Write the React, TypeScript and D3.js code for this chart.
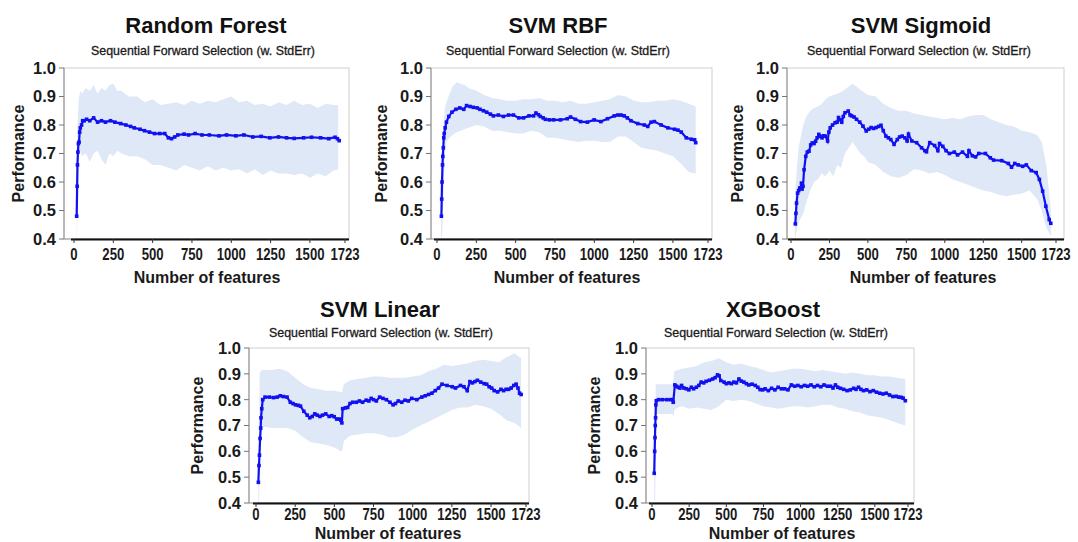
import React from "react";
import * as d3 from "d3";

// ---------- data ----------
const X_TICKS = [0, 250, 500, 750, 1000, 1250, 1500, 1723];
const Y_TICKS = [0.4, 0.5, 0.6, 0.7, 0.8, 0.9, 1.0];
const SUBTITLE = "Sequential Forward Selection (w. StdErr)";
const X_LABEL = "Number of features";
const Y_LABEL = "Performance";

// Random Forest
const rfX = [17, 20, 22, 25, 28, 32, 36, 40, 48, 55, 65, 80, 100, 125, 150, 175, 200, 232, 260, 297, 330, 360, 383, 420, 448, 480, 512, 545, 577, 600, 620, 640, 660, 700, 728, 770, 814, 860, 922, 970, 1029, 1080, 1137, 1190, 1245, 1300, 1352, 1400, 1460, 1510, 1568, 1620, 1660, 1675, 1686];
const rfY = [0.48, 0.585, 0.66, 0.705, 0.735, 0.74, 0.775, 0.79, 0.8, 0.815, 0.815, 0.82, 0.815, 0.825, 0.81, 0.815, 0.81, 0.815, 0.81, 0.805, 0.8, 0.795, 0.79, 0.785, 0.78, 0.775, 0.77, 0.77, 0.77, 0.755, 0.752, 0.758, 0.765, 0.768, 0.765, 0.77, 0.765, 0.765, 0.762, 0.765, 0.762, 0.765, 0.758, 0.76, 0.755, 0.758, 0.755, 0.753, 0.755, 0.757, 0.755, 0.752, 0.757, 0.752, 0.745];
const rfBandX = [17, 22, 30, 40, 50, 75, 100, 125, 150, 175, 200, 225, 250, 275, 300, 350, 400, 450, 500, 550, 600, 650, 700, 750, 800, 850, 900, 950, 1000, 1050, 1100, 1150, 1200, 1250, 1300, 1350, 1400, 1450, 1500, 1550, 1600, 1650, 1680];
const rfUpper = [0.58, 0.8, 0.89, 0.92, 0.91, 0.93, 0.92, 0.94, 0.91, 0.93, 0.92, 0.94, 0.945, 0.92, 0.92, 0.9, 0.9, 0.88, 0.89, 0.87, 0.875, 0.88, 0.87, 0.885, 0.875, 0.885, 0.88, 0.89, 0.9, 0.88, 0.885, 0.87, 0.875, 0.865, 0.88, 0.87, 0.885, 0.87, 0.875, 0.86, 0.875, 0.87, 0.87];
const rfLower = [0.38, 0.5, 0.7, 0.71, 0.69, 0.7, 0.67, 0.7, 0.71, 0.68, 0.66, 0.7, 0.69, 0.71, 0.7, 0.69, 0.69, 0.68, 0.66, 0.66, 0.65, 0.64, 0.66, 0.65, 0.64, 0.655, 0.64, 0.65, 0.64, 0.645, 0.63, 0.645, 0.625, 0.64, 0.63, 0.63, 0.625, 0.63, 0.615, 0.63, 0.62, 0.64, 0.645];

// SVM RBF
const rbfX = [28, 30, 32, 35, 37, 40, 43, 46, 52, 60, 75, 95, 120, 145, 170, 188, 210, 231, 255, 273, 295, 316, 340, 358, 390, 422, 455, 486, 520, 550, 585, 614, 629, 645, 657, 675, 689, 715, 742, 785, 828, 849, 880, 913, 956, 999, 1042, 1084, 1127, 1150, 1170, 1190, 1210, 1233, 1276, 1318, 1340, 1361, 1382, 1425, 1468, 1510, 1532, 1553, 1585, 1617, 1638, 1645];
const rbfY = [0.48, 0.54, 0.6, 0.66, 0.69, 0.72, 0.755, 0.77, 0.79, 0.81, 0.83, 0.845, 0.855, 0.86, 0.855, 0.868, 0.865, 0.862, 0.86, 0.855, 0.85, 0.845, 0.838, 0.832, 0.835, 0.83, 0.835, 0.835, 0.825, 0.825, 0.832, 0.832, 0.842, 0.836, 0.83, 0.825, 0.82, 0.818, 0.818, 0.818, 0.822, 0.828, 0.82, 0.812, 0.81, 0.818, 0.812, 0.822, 0.832, 0.835, 0.835, 0.832, 0.825, 0.815, 0.805, 0.8, 0.795, 0.81, 0.812, 0.8, 0.79, 0.785, 0.782, 0.775, 0.755, 0.75, 0.748, 0.738];
const rbfBandX = [26, 30, 35, 40, 50, 60, 80, 100, 125, 150, 175, 200, 250, 300, 350, 400, 450, 500, 550, 600, 650, 700, 750, 800, 850, 900, 950, 1000, 1050, 1100, 1150, 1200, 1250, 1300, 1350, 1400, 1450, 1500, 1550, 1600, 1645];
const rbfUpper = [0.55, 0.6, 0.7, 0.78, 0.86, 0.88, 0.91, 0.935, 0.95, 0.945, 0.94, 0.93, 0.92, 0.905, 0.895, 0.89, 0.885, 0.885, 0.89, 0.89, 0.895, 0.885, 0.885, 0.88, 0.885, 0.875, 0.875, 0.88, 0.885, 0.89, 0.905, 0.9, 0.885, 0.88, 0.88, 0.885, 0.885, 0.89, 0.885, 0.875, 0.865];
const rbfLower = [0.38, 0.4, 0.45, 0.55, 0.7, 0.74, 0.755, 0.765, 0.775, 0.78, 0.785, 0.79, 0.8, 0.795, 0.78, 0.78, 0.775, 0.77, 0.77, 0.78, 0.775, 0.755, 0.755, 0.75, 0.745, 0.74, 0.745, 0.745, 0.74, 0.74, 0.76, 0.76, 0.74, 0.72, 0.715, 0.71, 0.7, 0.69, 0.665, 0.635, 0.63];

// SVM Sigmoid
const sigX = [28, 32, 36, 43, 50, 57, 64, 68, 72, 78, 85, 96, 106, 117, 128, 138, 150, 160, 170, 181, 192, 202, 212, 223, 238, 246, 255, 270, 287, 300, 309, 320, 330, 340, 351, 372, 384, 394, 410, 426, 447, 468, 489, 505, 521, 537, 553, 570, 585, 600, 617, 633, 649, 670, 691, 706, 723, 740, 755, 764, 785, 817, 849, 870, 881, 902, 934, 955, 966, 987, 1008, 1030, 1062, 1083, 1115, 1147, 1157, 1179, 1200, 1221, 1264, 1296, 1317, 1370, 1413, 1434, 1455, 1477, 1506, 1530, 1562, 1594, 1615, 1636, 1657, 1679, 1689];
const sigY = [0.453, 0.49, 0.526, 0.561, 0.57, 0.579, 0.58, 0.596, 0.575, 0.585, 0.643, 0.69, 0.705, 0.708, 0.73, 0.737, 0.735, 0.743, 0.755, 0.767, 0.76, 0.755, 0.762, 0.761, 0.744, 0.775, 0.79, 0.8, 0.808, 0.81, 0.826, 0.818, 0.81, 0.83, 0.843, 0.849, 0.835, 0.832, 0.828, 0.82, 0.81, 0.796, 0.779, 0.785, 0.791, 0.788, 0.791, 0.795, 0.799, 0.78, 0.761, 0.755, 0.749, 0.732, 0.749, 0.758, 0.761, 0.755, 0.744, 0.768, 0.744, 0.738, 0.72, 0.71, 0.706, 0.738, 0.728, 0.71, 0.735, 0.725, 0.71, 0.7, 0.705, 0.695, 0.705, 0.69, 0.71, 0.692, 0.688, 0.7, 0.7, 0.685, 0.677, 0.675, 0.665, 0.652, 0.665, 0.66, 0.655, 0.66, 0.64, 0.633, 0.609, 0.568, 0.515, 0.468, 0.455];
const sigBandX = [25, 30, 40, 50, 60, 80, 100, 125, 150, 175, 200, 225, 250, 275, 300, 325, 350, 375, 400, 425, 450, 475, 500, 550, 600, 650, 700, 750, 800, 850, 900, 950, 1000, 1050, 1100, 1150, 1200, 1250, 1300, 1350, 1400, 1450, 1500, 1550, 1600, 1630, 1660, 1690];
const sigUpper = [0.48, 0.58, 0.66, 0.72, 0.75, 0.8, 0.83, 0.85, 0.86, 0.865, 0.875, 0.89, 0.9, 0.905, 0.91, 0.915, 0.925, 0.935, 0.945, 0.935, 0.925, 0.915, 0.905, 0.9, 0.875, 0.86, 0.85, 0.85, 0.84, 0.835, 0.83, 0.825, 0.82, 0.825, 0.82, 0.83, 0.835, 0.835, 0.82, 0.81, 0.8, 0.795, 0.78, 0.775, 0.765, 0.74, 0.66, 0.5];
const sigLower = [0.4, 0.41, 0.44, 0.46, 0.47, 0.49, 0.53, 0.57, 0.6, 0.61, 0.63, 0.62, 0.64, 0.62, 0.66, 0.65, 0.7, 0.72, 0.74, 0.72, 0.7, 0.69, 0.67, 0.66, 0.635, 0.62, 0.615, 0.625, 0.645, 0.64, 0.63, 0.635, 0.625, 0.61, 0.6, 0.59, 0.58, 0.57, 0.565, 0.555, 0.55, 0.555, 0.56, 0.57, 0.54, 0.5, 0.44, 0.41];

// SVM Linear
const linX = [15, 19, 22, 26, 30, 32, 37, 43, 58, 85, 112, 135, 155, 175, 198, 219, 236, 252, 270, 284, 305, 327, 343, 359, 375, 391, 408, 424, 445, 467, 483, 499, 515, 531, 542, 548, 553, 570, 585, 600, 617, 640, 660, 680, 703, 720, 735, 750, 768, 789, 810, 832, 855, 875, 890, 908, 930, 951, 972, 994, 1026, 1058, 1080, 1101, 1122, 1144, 1165, 1187, 1219, 1252, 1273, 1305, 1327, 1348, 1365, 1381, 1397, 1413, 1434, 1456, 1472, 1488, 1504, 1520, 1542, 1563, 1580, 1596, 1612, 1628, 1645, 1660, 1672, 1682, 1692];
const linY = [0.48, 0.545, 0.585, 0.65, 0.69, 0.73, 0.765, 0.8, 0.81, 0.81, 0.808, 0.81, 0.815, 0.812, 0.81, 0.79, 0.785, 0.78, 0.778, 0.775, 0.755, 0.74, 0.73, 0.735, 0.745, 0.74, 0.735, 0.74, 0.745, 0.735, 0.738, 0.734, 0.725, 0.725, 0.72, 0.71, 0.765, 0.768, 0.77, 0.785, 0.79, 0.79, 0.795, 0.79, 0.798, 0.795, 0.805, 0.8, 0.795, 0.81, 0.805, 0.8, 0.79, 0.78, 0.785, 0.795, 0.79, 0.798, 0.795, 0.805, 0.8, 0.81, 0.815, 0.82, 0.825, 0.835, 0.845, 0.86, 0.855, 0.85, 0.845, 0.855, 0.85, 0.835, 0.87, 0.865, 0.87, 0.875, 0.868, 0.862, 0.86, 0.85, 0.845, 0.835, 0.83, 0.84, 0.835, 0.84, 0.84, 0.845, 0.855, 0.86, 0.845, 0.825, 0.82];
const linBandX = [15, 20, 23, 30, 40, 60, 100, 150, 200, 250, 300, 350, 400, 450, 500, 540, 550, 560, 600, 650, 700, 750, 800, 850, 900, 950, 1000, 1050, 1100, 1150, 1200, 1250, 1300, 1350, 1400, 1450, 1500, 1550, 1600, 1650, 1692];
const linUpper = [0.5, 0.6, 0.9, 0.91, 0.915, 0.915, 0.915, 0.92, 0.91, 0.885, 0.86, 0.845, 0.84, 0.835, 0.835, 0.83, 0.83, 0.86, 0.875, 0.88, 0.885, 0.89, 0.89, 0.885, 0.885, 0.885, 0.89, 0.895, 0.91, 0.92, 0.935, 0.93, 0.935, 0.94, 0.95, 0.955, 0.95, 0.945, 0.965, 0.98, 0.96];
const linLower = [0.4, 0.4, 0.69, 0.69, 0.69, 0.695, 0.69, 0.69, 0.69, 0.68, 0.655, 0.635, 0.63, 0.625, 0.615, 0.6, 0.6, 0.64, 0.66, 0.665, 0.67, 0.67, 0.665, 0.655, 0.655, 0.665, 0.685, 0.7, 0.715, 0.73, 0.745, 0.76, 0.77, 0.77, 0.78, 0.775, 0.765, 0.745, 0.72, 0.71, 0.69];

// XGBoost
const xgbX = [15, 18, 20, 22, 24, 26, 29, 44, 70, 100, 125, 139, 143, 154, 165, 176, 188, 199, 215, 232, 248, 265, 280, 298, 315, 331, 348, 364, 386, 408, 425, 441, 452, 463, 485, 500, 518, 535, 551, 568, 585, 600, 618, 635, 651, 673, 695, 712, 728, 745, 761, 783, 805, 827, 849, 871, 893, 915, 938, 960, 982, 1004, 1026, 1048, 1070, 1092, 1114, 1136, 1158, 1180, 1202, 1218, 1235, 1250, 1268, 1290, 1313, 1335, 1357, 1373, 1390, 1406, 1423, 1445, 1467, 1489, 1511, 1533, 1555, 1577, 1599, 1621, 1643, 1660, 1677, 1690, 1705];
const xgbY = [0.515, 0.6, 0.653, 0.7, 0.73, 0.78, 0.796, 0.8, 0.8, 0.8, 0.8, 0.8, 0.79, 0.857, 0.852, 0.848, 0.845, 0.855, 0.845, 0.842, 0.838, 0.848, 0.842, 0.848, 0.855, 0.868, 0.865, 0.871, 0.875, 0.88, 0.885, 0.896, 0.892, 0.874, 0.868, 0.862, 0.865, 0.862, 0.868, 0.865, 0.88, 0.872, 0.868, 0.862, 0.857, 0.86, 0.855, 0.848, 0.839, 0.838, 0.842, 0.835, 0.844, 0.838, 0.848, 0.842, 0.842, 0.838, 0.857, 0.852, 0.855, 0.85, 0.855, 0.852, 0.857, 0.85, 0.855, 0.85, 0.857, 0.852, 0.852, 0.845, 0.857, 0.848, 0.844, 0.84, 0.835, 0.838, 0.844, 0.84, 0.848, 0.84, 0.835, 0.838, 0.831, 0.835, 0.829, 0.825, 0.822, 0.825, 0.818, 0.812, 0.813, 0.81, 0.809, 0.806, 0.796];
const xgbBandX = [15, 22, 25, 140, 145, 150, 175, 200, 250, 300, 350, 400, 450, 500, 550, 600, 650, 700, 750, 800, 850, 900, 950, 1000, 1050, 1100, 1150, 1200, 1250, 1300, 1350, 1400, 1450, 1500, 1550, 1600, 1650, 1705];
const xgbUpper = [0.5, 0.6, 0.86, 0.86, 0.88, 0.91, 0.915, 0.92, 0.925, 0.93, 0.945, 0.95, 0.96, 0.945, 0.935, 0.94, 0.93, 0.925, 0.915, 0.905, 0.91, 0.915, 0.92, 0.92, 0.915, 0.91, 0.915, 0.91, 0.905, 0.9, 0.905, 0.9, 0.895, 0.895, 0.89, 0.89, 0.885, 0.88];
const xgbLower = [0.41, 0.41, 0.745, 0.745, 0.73, 0.76, 0.77, 0.775, 0.765, 0.77, 0.765, 0.76, 0.775, 0.8, 0.795, 0.8, 0.795, 0.785, 0.775, 0.77, 0.765, 0.77, 0.775, 0.775, 0.77, 0.775, 0.78, 0.78, 0.77, 0.765, 0.755, 0.75, 0.74, 0.735, 0.73, 0.72, 0.71, 0.7];

const SERIES = [
  { title: "Random Forest", x: rfX, y: rfY, bx: rfBandX, lo: rfLower, hi: rfUpper },
  { title: "SVM RBF", x: rbfX, y: rbfY, bx: rbfBandX, lo: rbfLower, hi: rbfUpper },
  { title: "SVM Sigmoid", x: sigX, y: sigY, bx: sigBandX, lo: sigLower, hi: sigUpper },
  { title: "SVM Linear", x: linX, y: linY, bx: linBandX, lo: linLower, hi: linUpper },
  { title: "XGBoost", x: xgbX, y: xgbY, bx: xgbBandX, lo: xgbLower, hi: xgbUpper },
];

// ---------- layout ----------
const LAYOUT = [
  { left: 64, right: 349, top: 68, bottom: 239, x0: 74, x1: 345, titleX: 206, subX: 203, titleY: 33, subY: 55, xlX: 207, xlY: 283, ylX: 18, tickDy: 21 },
  { left: 431, right: 712, top: 68, bottom: 239, x0: 437, x1: 708, titleX: 558, subX: 558, titleY: 33, subY: 55, xlX: 567, xlY: 283, ylX: 381, tickDy: 21 },
  { left: 787, right: 1064, top: 68, bottom: 239, x0: 791, x1: 1056, titleX: 921, subX: 919, titleY: 33, subY: 55, xlX: 923, xlY: 283, ylX: 737, tickDy: 21 },
  { left: 249, right: 529, top: 348, bottom: 503, x0: 256, x1: 526, titleX: 380, subX: 381, titleY: 317, subY: 337, xlX: 388, xlY: 539, ylX: 197, tickDy: 17 },
  { left: 646, right: 914, top: 348, bottom: 503, x0: 652, x1: 908, titleX: 773, subX: 776, titleY: 317, subY: 337, xlX: 782, xlY: 539, ylX: 594, tickDy: 17 },
];

const FONT = "'Liberation Sans', Arial, Helvetica, sans-serif";
const LINE_COLOR = "#1010f0";
const BAND_COLOR = "#dfe8f6";
const TEXT = "#1a1a1a";
const DIGIT_W = 7.3;

function Panel({ s, L, idx }: { s: any; L: any; idx: number }) {
  const x = d3.scaleLinear().domain([0, 1723]).range([L.x0, L.x1]);
  const y = d3.scaleLinear().domain([0.4, 1.0]).range([L.bottom, L.top]);
  const n = Math.min(s.x.length, s.y.length);
  const pts = d3.range(n).map((i) => [s.x[i], s.y[i]] as [number, number]);
  const bn = Math.min(s.bx.length, s.lo.length, s.hi.length);
  const band = d3.range(bn).map((i) => ({ x: s.bx[i], lo: s.lo[i], hi: s.hi[i] }));
  const area = d3
    .area<any>()
    .x((d) => x(d.x))
    .y0((d) => y(d.lo))
    .y1((d) => y(d.hi))
    .curve(d3.curveLinear);
  const line = d3
    .line<[number, number]>()
    .x((d) => x(d[0]))
    .y((d) => y(d[1]));
  const clipId = `clip-${idx}`;
  return (
    <g>
      <defs>
        <clipPath id={clipId}>
          <rect x={L.left} y={L.top} width={L.right - L.left} height={L.bottom - L.top} />
        </clipPath>
      </defs>
      <rect x={L.left} y={L.top} width={L.right - L.left} height={L.bottom - L.top} fill="#fff" stroke="#cfcfcf" strokeWidth={1} />
      <g clipPath={`url(#${clipId})`}>
        <path d={area(band) || ""} fill={BAND_COLOR} stroke="none" />
        <path d={line(pts) || ""} fill="none" stroke={LINE_COLOR} strokeWidth={2.2} />
        {pts.map((p, i) => (
          <rect key={i} x={x(p[0]) - 1.8} y={y(p[1]) - 1.8} width={3.6} height={3.6} fill={LINE_COLOR} />
        ))}
      </g>
      <line x1={L.left} x2={L.left} y1={L.top} y2={L.bottom} stroke="#8a8a8a" strokeWidth={1} />
      <line x1={L.left} x2={L.right} y1={L.bottom} y2={L.bottom} stroke="#9a9a9a" strokeWidth={1} />
      <line x1={x(0) - 3} x2={L.right} y1={L.bottom + 0.5} y2={L.bottom + 0.5} stroke="#111" strokeWidth={2} />
      {Y_TICKS.map((t) => (
        <g key={t}>
          <line x1={L.left - 5} x2={L.left} y1={y(t)} y2={y(t)} stroke="#777" strokeWidth={1} />
          <text x={L.left - 8} y={y(t)} dy="0.36em" textAnchor="end" fontFamily={FONT} fontWeight="bold" fontSize={16.5} fill={TEXT}>
            {t.toFixed(1)}
          </text>
        </g>
      ))}
      {X_TICKS.map((t) => {
        const label = String(t);
        return (
          <g key={t}>
            <line x1={x(t)} x2={x(t)} y1={L.bottom} y2={L.bottom + 4} stroke="#333" strokeWidth={1} />
            <text
              x={x(t)}
              y={L.bottom + L.tickDy}
              textAnchor="middle"
              fontFamily={FONT}
              fontWeight="bold"
              fontSize={16.5}
              fill={TEXT}
              textLength={label.length * DIGIT_W}
              lengthAdjust="spacingAndGlyphs"
            >
              {label}
            </text>
          </g>
        );
      })}
      <text x={L.titleX} y={L.titleY} textAnchor="middle" fontFamily={FONT} fontWeight="bold" fontSize={22} fill="#111">
        {s.title}
      </text>
      <text x={L.subX} y={L.subY} textAnchor="middle" fontFamily={FONT} fontSize={12.4} fill={TEXT} stroke={TEXT} strokeWidth={0.3}>
        {SUBTITLE}
      </text>
      <text x={L.xlX} y={L.xlY} textAnchor="middle" fontFamily={FONT} fontWeight="bold" fontSize={16} fill={TEXT}>
        {X_LABEL}
      </text>
      <text
        transform={`translate(${L.ylX},${(L.top + L.bottom) / 2}) rotate(-90)`}
        textAnchor="middle"
        dy="0.36em"
        fontFamily={FONT}
        fontWeight="bold"
        fontSize={16}
        fill={TEXT}
      >
        {Y_LABEL}
      </text>
    </g>
  );
}

export default function App() {
  return (
    <svg width={1078} height={542} style={{ position: "absolute", left: 0, top: 0, background: "#fff" }}>
      <rect x={0} y={0} width={1078} height={542} fill="#fff" />
      {SERIES.map((s, i) => (
        <Panel key={i} s={s} L={LAYOUT[i]} idx={i} />
      ))}
    </svg>
  );
}
